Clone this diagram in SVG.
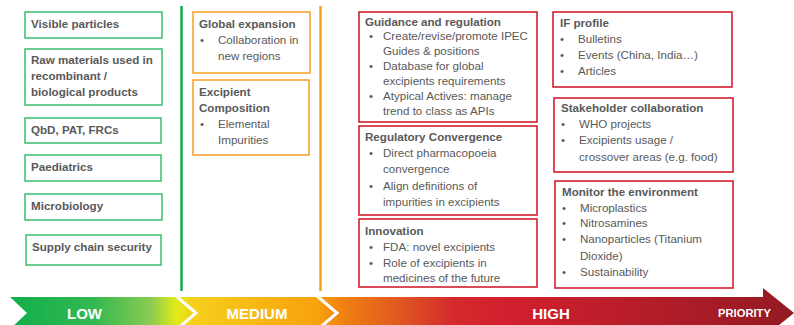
<svg xmlns="http://www.w3.org/2000/svg" width="794" height="325" viewBox="0 0 794 325">
<defs>
<style>
.t{font-family:"Liberation Sans",Arial,sans-serif;font-size:11.6px;fill:#595959}
.b{font-weight:bold}
.gb{fill:#fff;stroke:#45c277;stroke-width:1.6}
.ob{fill:#fff;stroke:#f7a530;stroke-width:1.6}
.rb{fill:#fff;stroke:#d2202f;stroke-width:1.6}
.band{font-family:"Liberation Sans",Arial,sans-serif;font-weight:bold;fill:#fff;text-anchor:middle}
</style>
<linearGradient id="grad" x1="0" y1="0" x2="794" y2="0" gradientUnits="userSpaceOnUse">
<stop offset="0.013" stop-color="#10ae4c"/>
<stop offset="0.12" stop-color="#35b951"/>
<stop offset="0.19" stop-color="#8acb50"/>
<stop offset="0.222" stop-color="#e2ea18"/>
<stop offset="0.245" stop-color="#f6cf1c"/>
<stop offset="0.40" stop-color="#f7a10c"/>
<stop offset="0.435" stop-color="#ef7f13"/>
<stop offset="0.50" stop-color="#e05a1f"/>
<stop offset="0.57" stop-color="#d42a2c"/>
<stop offset="0.64" stop-color="#d21f2e"/>
<stop offset="0.88" stop-color="#a91c26"/>
<stop offset="1" stop-color="#931a22"/>
</linearGradient>
</defs>

<!-- column dividers -->
<line x1="181.5" y1="6" x2="181.5" y2="291" stroke="#12ab4b" stroke-width="2.5"/>
<line x1="320.5" y1="6" x2="320.5" y2="291" stroke="#f7a21b" stroke-width="2.5"/>

<!-- priority band -->
<g id="band">
<path d="M10,297 L763,297 L763,288 L794,313 L763,338 L763,329 L10,329 L27,313 Z" fill="url(#grad)"/>
<polyline points="176,296 196,313 176,330" fill="none" stroke="#fff" stroke-width="3"/>
<polyline points="317,296 337,313 317,330" fill="none" stroke="#fff" stroke-width="3"/>
<text class="band" x="84.5" y="318.5" font-size="15">LOW</text>
<text class="band" x="257" y="318.5" font-size="15">MEDIUM</text>
<text class="band" x="551" y="318.5" font-size="15">HIGH</text>
<text class="band" x="744.5" y="317" font-size="11.2">PRIORITY</text>
</g>

<!-- LOW -->
<g id="visible-particles"><rect class="gb" x="25" y="12" width="137" height="26"/><text class="t b" x="31" y="28">Visible particles</text></g>
<g id="raw-materials"><rect class="gb" x="25" y="49" width="137" height="56"/>
<text class="t b" x="31" y="64">Raw materials used in</text>
<text class="t b" x="31" y="80">recombinant /</text>
<text class="t b" x="31" y="96">biological products</text></g>
<g id="qbd"><rect class="gb" x="25" y="118" width="136" height="25"/><text class="t b" x="31" y="133.5">QbD, PAT, FRCs</text></g>
<g id="paediatrics"><rect class="gb" x="25" y="155" width="136" height="26"/><text class="t b" x="31" y="171">Paediatrics</text></g>
<g id="microbiology"><rect class="gb" x="25" y="194" width="137" height="26"/><text class="t b" x="31" y="210">Microbiology</text></g>
<g id="supply-chain"><rect class="gb" x="26" y="235" width="135" height="30"/><text class="t b" x="32" y="251">Supply chain security</text></g>

<!-- MEDIUM -->
<g id="global-expansion"><rect class="ob" x="193" y="12" width="117" height="61"/>
<text class="t b" x="199" y="28">Global expansion</text>
<text class="t" x="200" y="44">•</text><text class="t" x="218" y="44">Collaboration in</text>
<text class="t" x="218" y="60">new regions</text></g>
<g id="excipient-composition"><rect class="ob" x="193" y="80" width="116" height="75"/>
<text class="t b" x="199" y="96">Excipient</text>
<text class="t b" x="199" y="112">Composition</text>
<text class="t" x="200" y="128">•</text><text class="t" x="218" y="128">Elemental</text>
<text class="t" x="218" y="144">Impurities</text></g>

<!-- HIGH col 1 -->
<g id="guidance"><rect class="rb" x="359" y="12" width="178" height="110"/>
<text class="t b" x="365" y="26">Guidance and regulation</text>
<text class="t" x="369" y="40">•</text><text class="t" x="383" y="40">Create/revise/promote IPEC</text>
<text class="t" x="383" y="55">Guides &amp; positions</text>
<text class="t" x="369" y="70">•</text><text class="t" x="383" y="70">Database for global</text>
<text class="t" x="383" y="85">excipients requirements</text>
<text class="t" x="369" y="100">•</text><text class="t" x="383" y="100">Atypical Actives: manage</text>
<text class="t" x="383" y="115">trend to class as APIs</text></g>
<g id="regulatory-convergence"><rect class="rb" x="359" y="126" width="178" height="89"/>
<text class="t b" x="365" y="141">Regulatory Convergence</text>
<text class="t" x="369" y="157">•</text><text class="t" x="383" y="157">Direct pharmacopoeia</text>
<text class="t" x="383" y="173">convergence</text>
<text class="t" x="369" y="190">•</text><text class="t" x="383" y="190">Align definitions of</text>
<text class="t" x="383" y="206">impurities in excipients</text></g>
<g id="innovation"><rect class="rb" x="359" y="219" width="178" height="68"/>
<text class="t b" x="365" y="235">Innovation</text>
<text class="t" x="369" y="251">•</text><text class="t" x="383" y="251">FDA: novel excipients</text>
<text class="t" x="369" y="267">•</text><text class="t" x="383" y="267">Role of excipients in</text>
<text class="t" x="383" y="282">medicines of the future</text></g>

<!-- HIGH col 2 -->
<g id="if-profile"><rect class="rb" x="553" y="12" width="179" height="75"/>
<text class="t b" x="560" y="27">IF profile</text>
<text class="t" x="560" y="43">•</text><text class="t" x="578" y="43">Bulletins</text>
<text class="t" x="560" y="59">•</text><text class="t" x="578" y="59">Events (China, India…)</text>
<text class="t" x="560" y="75">•</text><text class="t" x="578" y="75">Articles</text></g>
<g id="stakeholder"><rect class="rb" x="554" y="98" width="179" height="74"/>
<text class="t b" x="561" y="112">Stakeholder collaboration</text>
<text class="t" x="561" y="128">•</text><text class="t" x="579" y="128">WHO projects</text>
<text class="t" x="561" y="144">•</text><text class="t" x="579" y="144">Excipients usage /</text>
<text class="t" x="579" y="161">crossover areas (e.g. food)</text></g>
<g id="monitor"><rect class="rb" x="555" y="181" width="178" height="107"/>
<text class="t b" x="562" y="196">Monitor the environment</text>
<text class="t" x="562" y="212">•</text><text class="t" x="580" y="212">Microplastics</text>
<text class="t" x="562" y="227">•</text><text class="t" x="580" y="227">Nitrosamines</text>
<text class="t" x="562" y="243">•</text><text class="t" x="580" y="243">Nanoparticles (Titanium</text>
<text class="t" x="580" y="260">Dioxide)</text>
<text class="t" x="562" y="276">•</text><text class="t" x="580" y="276">Sustainability</text></g>

<g id="connectors"/>
</svg>
